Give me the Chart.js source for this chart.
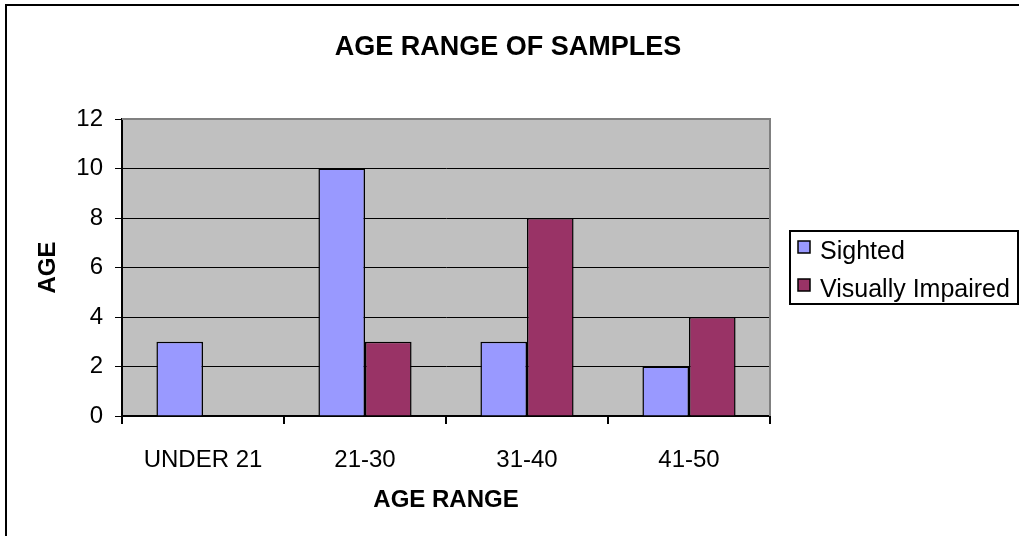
<!DOCTYPE html>
<html>
<head>
<meta charset="utf-8">
<script src="https://cdn.jsdelivr.net/npm/chart.js@4/dist/chart.umd.min.js"></script>
<style>
  html, body { margin: 0; padding: 0; background: #fff; }
  #wrap { width: 1019px; height: 536px; }
</style>
</head>
<body>
<div id="wrap"><canvas id="c"></canvas></div>
<script>
// ── Data ──────────────────────────────────────────────────────────────
const ranges   = ['UNDER 21', '21-30', '31-40', '41-50'];
const sighted  = [3, 10, 3, 2];
const impaired = [null, 3, 8, 4];
const yTicks   = [0, 2, 4, 6, 8, 10, 12];

const FONT = "Arial, 'Liberation Sans', sans-serif";
const C = {
  sighted:  '#9999FF',
  impaired: '#993366',
  plot:     '#C0C0C0',
  frame:    '#808080'
};

// Plot background, frame, titles and legend box (Excel look)
const decor = {
  id: 'decor',
  beforeDraw(chart) {
    const { ctx, chartArea: a } = chart;
    ctx.save();
    ctx.fillStyle = C.plot;
    ctx.fillRect(a.left, a.top, a.right - a.left, a.bottom - a.top);
    ctx.restore();
  },
  beforeDatasetsDraw(chart) {
    const { ctx, chartArea: a } = chart;
    ctx.save();
    ctx.strokeStyle = C.frame;
    ctx.lineWidth = 2;
    ctx.beginPath();
    ctx.moveTo(a.left, a.top);
    ctx.lineTo(a.right, a.top);
    ctx.lineTo(a.right, a.bottom);
    ctx.stroke();
    ctx.restore();
  },
  afterDraw(chart) {
    const { ctx, chartArea: a } = chart;
    ctx.save();
    // outer chart border
    ctx.strokeStyle = '#000';
    ctx.lineWidth = 2;
    ctx.strokeRect(6, 5, 1040, 560);

    ctx.fillStyle = '#000';
    ctx.textAlign = 'center';
    ctx.textBaseline = 'middle';
    ctx.font = 'bold 27px ' + FONT;
    ctx.fillText('AGE RANGE OF SAMPLES', 508, 48);

    ctx.font = 'bold 24px ' + FONT;
    ctx.fillText('AGE RANGE', (a.left + a.right) / 2, 500);
    ctx.save();
    ctx.translate(48, (a.top + a.bottom) / 2);
    ctx.rotate(-Math.PI / 2);
    ctx.fillText('AGE', 0, 0);
    ctx.restore();

    // legend
    ctx.lineWidth = 2;
    ctx.strokeRect(790, 231, 228, 73);
    ctx.font = '25px ' + FONT;
    ctx.textAlign = 'left';
    const rows = [247, 285];
    chart.data.datasets.forEach((ds, i) => {
      const y = rows[i];
      ctx.fillStyle = ds.backgroundColor;
      ctx.fillRect(798, y - 6, 12, 12);
      ctx.lineWidth = 1.5;
      ctx.strokeStyle = '#000';
      ctx.strokeRect(798, y - 6, 12, 12);
      ctx.fillStyle = '#000';
      ctx.fillText(ds.label, 820, y + 5);
    });
    ctx.restore();
  }
};

new Chart(document.getElementById('c'), {
  type: 'bar',
  data: {
    labels: ranges,
    datasets: [
      { label: 'Sighted', data: sighted, backgroundColor: C.sighted,
        borderColor: '#000', borderWidth: 1.5 },
      { label: 'Visually Impaired', data: impaired, backgroundColor: C.impaired,
        borderColor: '#000', borderWidth: 1.5 }
    ]
  },
  options: {
    responsive: true, maintainAspectRatio: false,
    animation: false,
    layout: { padding: { left: 0, top: 119, right: 249, bottom: 0 } },
    datasets: { bar: { categoryPercentage: 0.575, barPercentage: 1 } },
    plugins: { legend: { display: false }, tooltip: { enabled: false }, title: { display: false } },
    scales: {
      x: {
        offset: true,
        grid: { offset: true, drawOnChartArea: false, color: '#000', tickLength: 8, lineWidth: 2 },
        border: { color: '#000', width: 2 },
        ticks: { color: '#000', padding: 22, font: { family: FONT, size: 24 } },
        afterFit: s => { s.height = 120; }
      },
      y: {
        min: 0, max: 12,
        afterBuildTicks: s => { s.ticks = yTicks.map(v => ({ value: v })); },
        grid: {
          color: ctx => ctx.tick && ctx.tick.value === 12 ? C.frame : '#000',
          tickColor: '#000', tickLength: 7, lineWidth: 1
        },
        border: { color: '#000', width: 2 },
        ticks: { color: '#000', padding: 12, font: { family: FONT, size: 24 } },
        afterFit: s => { s.width = 122; }
      }
    }
  },
  plugins: [decor]
});
</script>
</body>
</html>
